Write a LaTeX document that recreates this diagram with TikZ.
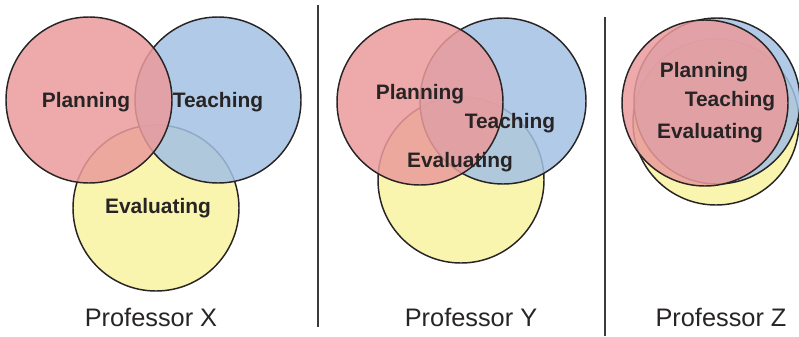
\documentclass[tikz,border=0pt]{standalone}
\usepackage{fontspec}
\setmainfont{Liberation Sans}
\definecolor{plan}{RGB}{235,155,155}
\definecolor{teach}{RGB}{163,193,227}
\definecolor{eval}{RGB}{248,242,160}
\definecolor{ink}{RGB}{40,36,37}
\tikzset{
  venn/.style={circle, draw=ink, line width=1.1pt, fill opacity=0.85, draw opacity=1, minimum size=124.5pt, inner sep=0pt},
  lab/.style={anchor=base, font=\fontsize{15.7}{18}\selectfont\bfseries, text=ink},
  prof/.style={anchor=base, font=\fontsize{19}{22}\selectfont, text=ink},
  sep/.style={draw=ink!90, line width=1.5pt}
}
\begin{document}
\begin{tikzpicture}[x=0.75pt, y=-0.75pt]
\useasboundingbox (0,0) rectangle (799,336);
\begin{scope}
\clip (0,0) rectangle (799,336);
% Professor X
\node[venn, fill=eval] (xe) at (156,208) {};
\node[venn, fill=teach] (xt) at (218,100) {};
\node[venn, fill=plan] (xp) at (89,100) {};
% Professor Y
\node[venn, fill=eval] (ye) at (461,180) {};
\node[venn, fill=teach] (yt) at (503,101) {};
\node[venn, fill=plan] (yp) at (420,102) {};
% Professor Z
\node[venn, fill=eval] (ze) at (716,122) {};
\node[venn, fill=teach] (zt) at (717,101) {};
\node[venn, fill=plan] (zp) at (705,103) {};
\end{scope}
\node[lab] (xpl) at (86,107) {Planning};
\node[lab] (xtl) at (218,107) {Teaching};
\node[lab] (xel) at (158,213) {Evaluating};
\node[lab] (ypl) at (420,99) {Planning};
\node[lab] (ytl) at (510,128) {Teaching};
\node[lab] (yel) at (460,167) {Evaluating};
\node[lab] (zpl) at (704,77) {Planning};
\node[lab] (ztl) at (730,106) {Teaching};
\node[lab] (zel) at (710,138) {Evaluating};
\node[prof] (px) at (151,326) {Professor X};
\node[prof] (py) at (471,326) {Professor Y};
\node[prof] (pz) at (721,326) {Professor Z};
\coordinate (s1a) at (317.5,5);
\coordinate (s1b) at (317.5,327);
\coordinate (s2a) at (605,17);
\coordinate (s2b) at (605,336);
\draw[sep] (s1a) -- (s1b);
\draw[sep] (s2a) -- (s2b);
\end{tikzpicture}
\end{document}
